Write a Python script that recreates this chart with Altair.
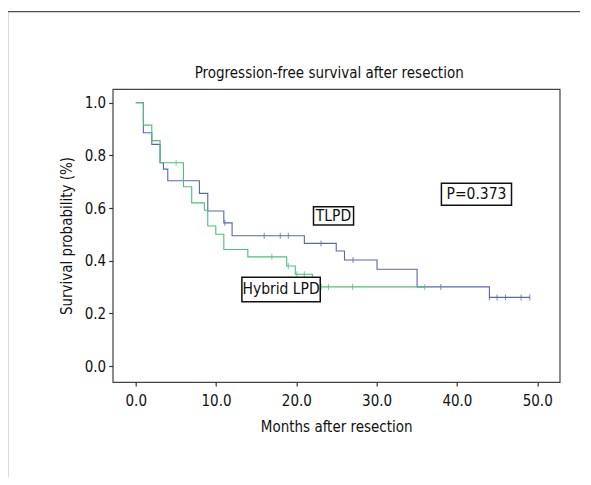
import altair as alt
import pandas as pd

# ---- data ----
tlpd_t = [0, 0.95, 2.0, 3.03, 3.45, 3.99, 7.93, 8.97, 10.97, 12.0, 21.0, 24.97, 26.0, 30.05, 35.04, 44.05, 49.1]
tlpd_s = [1.0, 0.886, 0.842, 0.772, 0.748, 0.704, 0.656, 0.589, 0.544, 0.495, 0.466, 0.437, 0.403, 0.368, 0.301, 0.261, 0.261]
tlpd_cens_t = [11.1, 16.0, 18.0, 19.0, 23.07, 27.06, 38.0, 44.05, 45.0, 46.05, 48.0, 49.08]
tlpd_cens_s = [0.544, 0.495, 0.495, 0.495, 0.466, 0.403, 0.301, 0.261, 0.261, 0.261, 0.261, 0.261]

hyb_t = [0, 0.95, 2.0, 3.03, 5.94, 6.97, 8.55, 8.97, 9.97, 10.97, 13.96, 18.8, 19.87, 22.0, 36.0]
hyb_s = [1.0, 0.915, 0.856, 0.772, 0.681, 0.620, 0.592, 0.532, 0.501, 0.443, 0.415, 0.380, 0.349, 0.301, 0.301]
hyb_cens_t = [5.03, 16.95, 19.0, 20.07, 21.0, 23.1, 24.0, 27.0, 36.0]
hyb_cens_s = [0.772, 0.415, 0.380, 0.349, 0.349, 0.301, 0.301, 0.301, 0.301]

x_ticks = [0, 10, 20, 30, 40, 50]
y_ticks = [0.0, 0.2, 0.4, 0.6, 0.8, 1.0]

chart_title = "Progression-free survival after resection"

# annotation boxes (in data units) and their labels
box_text = ["TLPD", "Hybrid LPD", "P=0.373"]
box_x1 = [22.14, 13.22, 38.07]
box_x2 = [27.13, 22.98, 46.80]
box_y1 = [0.605, 0.338, 0.694]
box_y2 = [0.5355, 0.245, 0.611]

BLUE = "#5868ad"
GREEN = "#4dbf7e"
FONT = "DejaVu Sans Condensed, Roboto Condensed, Liberation Sans Narrow, Roboto, sans-serif"

W, H = 447, 293
xs = alt.Scale(domain=[-2.87, 52.8], nice=False, zero=False)
ys = alt.Scale(domain=[-0.06, 1.052], nice=False, zero=False)

tl = pd.DataFrame({"t": tlpd_t, "s": tlpd_s})
hy = pd.DataFrame({"t": hyb_t, "s": hyb_s})
tlc = pd.DataFrame({"t": tlpd_cens_t, "s": tlpd_cens_s})
hyc = pd.DataFrame({"t": hyb_cens_t, "s": hyb_cens_s})
boxes = pd.DataFrame({"label": box_text, "x1": box_x1, "x2": box_x2, "y1": box_y1, "y2": box_y2})
boxes["xc"] = (boxes.x1 + boxes.x2) / 2
boxes["yc"] = (boxes.y1 + boxes.y2) / 2

xax = alt.Axis(values=x_ticks, format=".1f", title="Months after resection", grid=False,
               domain=False, tickSize=4, labelPadding=8, titlePadding=11)
yax = alt.Axis(values=y_ticks, format=".1f", title="Survival probability (%)", grid=False,
               domain=False, tickSize=4, labelPadding=3, titlePadding=10)

base_x = alt.X("t:Q", scale=xs, axis=xax)
base_y = alt.Y("s:Q", scale=ys, axis=yax)

line_tl = alt.Chart(tl).mark_line(interpolate="step-after", color=BLUE, strokeWidth=1.1).encode(x=base_x, y=base_y)
line_hy = alt.Chart(hy).mark_line(interpolate="step-after", color=GREEN, strokeWidth=1.1).encode(
    x=alt.X("t:Q", scale=xs), y=alt.Y("s:Q", scale=ys))
cens_tl = alt.Chart(tlc).mark_tick(orient="vertical", size=6, thickness=1.1, color=BLUE).encode(
    x=alt.X("t:Q", scale=xs), y=alt.Y("s:Q", scale=ys))
cens_hy = alt.Chart(hyc).mark_tick(orient="vertical", size=6, thickness=1.1, color=GREEN).encode(
    x=alt.X("t:Q", scale=xs), y=alt.Y("s:Q", scale=ys))

rects = alt.Chart(boxes).mark_rect(fill="white", stroke="#111", strokeWidth=1.5).encode(
    x=alt.X("x1:Q", scale=xs), x2="x2:Q", y=alt.Y("y1:Q", scale=ys), y2="y2:Q")
texts = alt.Chart(boxes).mark_text(font=FONT, fontSize=15.5, color="#111", baseline="middle", align="center").encode(
    x=alt.X("xc:Q", scale=xs), y=alt.Y("yc:Q", scale=ys), text="label:N")

one = pd.DataFrame({"title": [chart_title]})
title_mark = alt.Chart(one).mark_text(font=FONT, fontSize=15, color="#111", baseline="middle", align="center").encode(
    x=alt.value(W / 2 - 7), y=alt.value(-16), text="title:N")

# outer figure border (decoration)
border_top = alt.Chart(one).mark_rule(color="#222", strokeWidth=1).encode(
    x=alt.value(-105.4), x2=alt.value(470), y=alt.value(-77.3))
border_left = alt.Chart(one).mark_rule(color="#888", strokeWidth=2).encode(
    x=alt.value(-105.4), y=alt.value(-77.3), y2=alt.value(388))

chart = alt.layer(border_top, border_left, line_tl, line_hy, cens_tl, cens_hy, rects, texts, title_mark).properties(
    width=W, height=H,
    autosize=alt.AutoSizeParams(type="none"),
    padding={"left": 104.7, "top": 81, "right": 20, "bottom": 95},
).configure_view(stroke="#444", strokeWidth=1.2).configure_axis(
    labelFont=FONT, titleFont=FONT, labelFontSize=15, titleFontSize=15, labelColor="#111",
    titleColor="#111", titleFontWeight="normal", tickColor="#333", tickWidth=1.2
)

chart.save("out.html", embed_options={"renderer": "svg", "actions": False})
